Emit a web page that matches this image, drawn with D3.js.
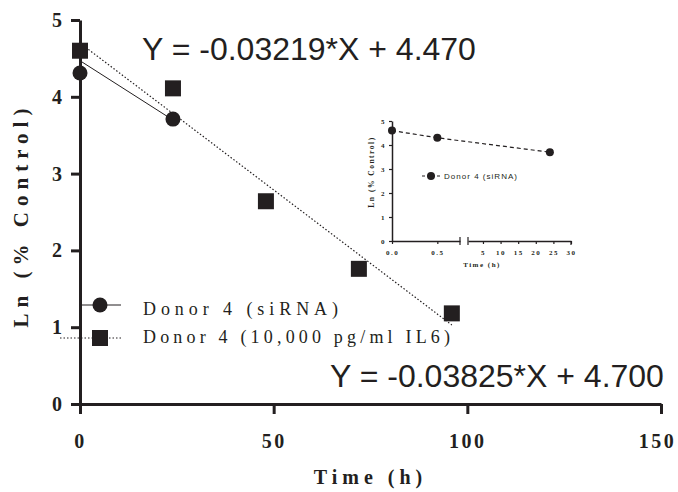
<!DOCTYPE html>
<html>
<head>
<meta charset="utf-8">
<script src="https://cdn.jsdelivr.net/npm/d3@7"></script>
<style>
  body { margin: 0; background: #fff; }
  svg { display: block; }
</style>
</head>
<body>
<div id="chart"></div>
<script>
// data
const timeIL6 = [0, 24, 48, 72, 96];
const lnIL6 = [4.6, 4.11, 2.64, 1.76, 1.18];
const timeSi = [0, 24];
const lnSi = [4.31, 3.71];

// linear fits as printed on the figure
const fitSi = { slope: -0.03219, intercept: 4.470, xMax: 24 };
const fitIL6 = { slope: -0.03825, intercept: 4.700, xMax: 96 };
const eqLabels = ["Y = -0.03219*X + 4.470", "Y = -0.03825*X + 4.700"];

const xTicks = [0, 50, 100, 150];
const yTicks = [0, 1, 2, 3, 4, 5];
const legendLabels = ["Donor 4 (siRNA)", "Donor 4 (10,000 pg/ml IL6)"];

// inset
const insetTime = [0, 0.5, 24];
const insetLn = [4.6, 4.3, 3.7];
const insetXTicksA = [0, 0.5];
const insetXTicksB = [5, 10, 15, 20, 25, 30];
const insetLegend = "Donor 4 (siRNA)";

const w = 678, h = 492;
const ink = "#231f20";
const serif = "'Liberation Serif','Times New Roman',serif";
const sans = "'Liberation Sans',Arial,sans-serif";

const svg = d3.select("#chart").append("svg")
  .attr("width", w).attr("height", h);

// main scales
const x = d3.scaleLinear().domain([0, 150]).range([80, 661]);
const y = d3.scaleLinear().domain([0, 5]).range([404, 20]);

// axes
const xAxis = svg.append("g")
  .attr("transform", `translate(0,${y(0)})`)
  .call(d3.axisBottom(x).tickValues(xTicks).tickSize(10).tickSizeOuter(0).tickPadding(20));
const yAxis = svg.append("g")
  .attr("transform", `translate(${x(0)},0)`)
  .call(d3.axisLeft(y).tickValues(yTicks).tickFormat(d3.format("d"))
    .tickSize(9).tickSizeOuter(0).tickPadding(9));

[xAxis, yAxis].forEach(g => {
  g.select(".domain").attr("stroke", ink).attr("stroke-width", 3);
  g.selectAll(".tick line").attr("stroke", ink).attr("stroke-width", 3);
  g.selectAll(".tick text")
    .attr("fill", ink)
    .style("font-family", serif)
    .style("font-weight", "bold")
    .style("font-size", "20px");
});
xAxis.selectAll(".tick text")
  .style("letter-spacing", "2.5px")
  .attr("dx", d => d === 150 ? "-4px" : "0px");

// axis titles
svg.append("text")
  .attr("x", (x(0) + x(150)) / 2)
  .attr("y", 484)
  .attr("text-anchor", "middle")
  .attr("fill", ink)
  .style("font-family", serif).style("font-weight", "bold").style("font-size", "20px")
  .style("letter-spacing", "5px")
  .text("Time (h)");

svg.append("text")
  .attr("transform", "translate(28,215) rotate(-90)")
  .attr("text-anchor", "middle")
  .attr("fill", ink)
  .style("font-family", serif).style("font-weight", "bold").style("font-size", "21px")
  .style("letter-spacing", "6px")
  .text("Ln (% Control)");

// fit lines
const fitLine = d3.line().x(d => x(d[0])).y(d => y(d[1]));
svg.append("path")
  .datum([[0, fitSi.intercept], [fitSi.xMax, fitSi.intercept + fitSi.slope * fitSi.xMax]])
  .attr("d", fitLine).attr("fill", "none").attr("stroke", ink).attr("stroke-width", 1);
svg.append("path")
  .datum([[0, fitIL6.intercept], [fitIL6.xMax, fitIL6.intercept + fitIL6.slope * fitIL6.xMax]])
  .attr("d", fitLine).attr("fill", "none").attr("stroke", ink).attr("stroke-width", 1.2)
  .attr("stroke-dasharray", "1.5,2");

// points
const sq = 16;
svg.selectAll("rect.il6")
  .data(timeIL6.map((t, i) => [t, lnIL6[i]]))
  .enter().append("rect")
  .attr("class", "il6")
  .attr("x", d => x(d[0]) - sq / 2)
  .attr("y", d => y(d[1]) - sq / 2)
  .attr("width", sq).attr("height", sq)
  .attr("fill", ink);

svg.selectAll("circle.si")
  .data(timeSi.map((t, i) => [t, lnSi[i]]))
  .enter().append("circle")
  .attr("class", "si")
  .attr("cx", d => x(d[0]))
  .attr("cy", d => y(d[1]))
  .attr("r", 7.5)
  .attr("fill", ink);

// equations
svg.append("text")
  .attr("x", 142).attr("y", 60)
  .attr("fill", ink)
  .style("font-family", sans).style("font-size", "32px")
  .text(eqLabels[0]);
svg.append("text")
  .attr("x", 330).attr("y", 387)
  .attr("fill", ink)
  .style("font-family", sans).style("font-size", "32px")
  .text(eqLabels[1]);

// legend
const legend = svg.append("g");
legend.append("line")
  .attr("x1", 79).attr("x2", 121).attr("y1", 305).attr("y2", 305)
  .attr("stroke", ink).attr("stroke-width", 1);
legend.append("circle")
  .attr("cx", 100).attr("cy", 305).attr("r", 7.5).attr("fill", ink);
legend.append("line")
  .attr("x1", 60).attr("x2", 121).attr("y1", 338).attr("y2", 338)
  .attr("stroke", ink).attr("stroke-width", 1).attr("stroke-dasharray", "1.5,2");
legend.append("rect")
  .attr("x", 100 - sq / 2).attr("y", 338 - sq / 2).attr("width", sq).attr("height", sq)
  .attr("fill", ink);
legend.selectAll("text")
  .data(legendLabels)
  .enter().append("text")
  .attr("x", 143)
  .attr("y", (d, i) => 315 + i * 28)
  .attr("fill", ink)
  .attr("textLength", (d, i) => i === 0 ? 195 : 307)
  .attr("lengthAdjust", "spacing")
  .style("font-family", serif).style("font-size", "18px")
  .text(d => d);

// ---------- inset ----------
const inset = svg.append("g");
const iy = d3.scaleLinear().domain([0, 5]).range([241, 121]);
const ixA = d3.scaleLinear().domain([0, 0.75]).range([392, 460]);
const ixB = d3.scaleLinear().domain([0.75, 30]).range([468, 571]);
const ix = t => t <= 0.75 ? ixA(t) : ixB(t);

const iyAxis = inset.append("g")
  .attr("transform", `translate(${ixA(0)},0)`)
  .call(d3.axisLeft(iy).tickValues(yTicks).tickFormat(d3.format("d"))
    .tickSize(3).tickSizeOuter(0).tickPadding(3));
const ixAxisA = inset.append("g")
  .attr("transform", `translate(0,${iy(0)})`)
  .call(d3.axisBottom(ixA).tickValues(insetXTicksA).tickFormat(d3.format(".1f"))
    .tickSize(3).tickSizeOuter(0).tickPadding(6));
const ixAxisB = inset.append("g")
  .attr("transform", `translate(0,${iy(0)})`)
  .call(d3.axisBottom(ixB).tickValues(insetXTicksB).tickSize(3).tickSizeOuter(0).tickPadding(6));

[iyAxis, ixAxisA, ixAxisB].forEach(g => {
  g.select(".domain").attr("stroke", ink).attr("stroke-width", 1.5);
  g.selectAll(".tick line").attr("stroke", ink).attr("stroke-width", 1.2);
  g.selectAll(".tick text")
    .attr("fill", ink)
    .style("font-family", serif).style("font-weight", "bold").style("font-size", "7px")
    .style("letter-spacing", "1.5px");
});

// break marks at the segment ends
inset.selectAll("line.brk")
  .data([ixA(0.75), ixB(0.75), ixB(30)])
  .enter().append("line")
  .attr("class", "brk")
  .attr("x1", d => d).attr("x2", d => d)
  .attr("y1", (d, i) => i === 2 ? iy(0) : iy(0) - 4)
  .attr("y2", iy(0) + 4)
  .attr("stroke", ink).attr("stroke-width", 1.2);

inset.append("text")
  .attr("x", 482).attr("y", 267)
  .attr("text-anchor", "middle")
  .attr("fill", ink)
  .style("font-family", serif).style("font-weight", "bold").style("font-size", "7px")
  .style("letter-spacing", "1.5px")
  .text("Time (h)");
inset.append("text")
  .attr("transform", "translate(374,172) rotate(-90)")
  .attr("text-anchor", "middle")
  .attr("fill", ink)
  .style("font-family", serif).style("font-weight", "bold").style("font-size", "7.5px")
  .style("letter-spacing", "1.5px")
  .text("Ln (% Control)");

inset.append("path")
  .datum(insetTime.map((t, i) => [t, insetLn[i]]))
  .attr("d", d3.line().x(d => ix(d[0])).y(d => iy(d[1])))
  .attr("fill", "none").attr("stroke", ink).attr("stroke-width", 1.2)
  .attr("stroke-dasharray", "4,3");
inset.selectAll("circle.pt")
  .data(insetTime.map((t, i) => [t, insetLn[i]]))
  .enter().append("circle")
  .attr("class", "pt")
  .attr("cx", d => ix(d[0])).attr("cy", d => iy(d[1]))
  .attr("r", 4).attr("fill", ink);

// inset legend
inset.append("line")
  .attr("x1", 422).attr("x2", 441).attr("y1", 176).attr("y2", 176)
  .attr("stroke", ink).attr("stroke-width", 1.2).attr("stroke-dasharray", "3,2");
inset.append("circle")
  .attr("cx", 431).attr("cy", 176).attr("r", 4).attr("fill", ink);
inset.append("text")
  .attr("x", 444).attr("y", 179)
  .attr("fill", ink)
  .attr("textLength", 73).attr("lengthAdjust", "spacing")
  .style("font-family", sans).style("font-size", "8px")
  .text(insetLegend);
</script>
</body>
</html>
